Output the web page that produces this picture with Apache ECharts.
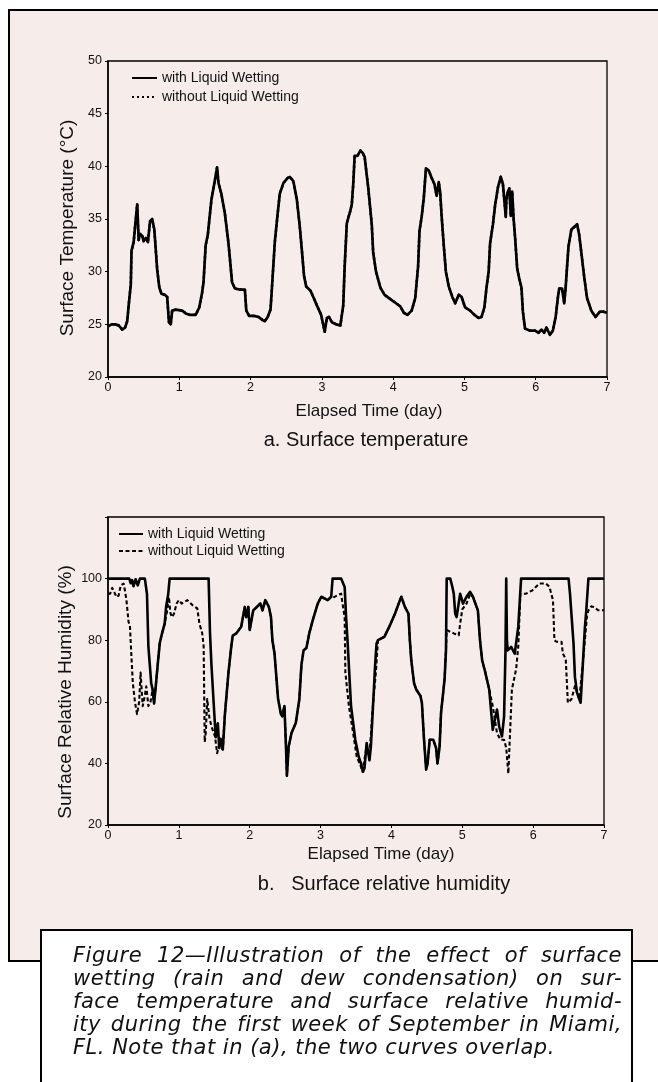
<!DOCTYPE html>
<html>
<head>
<meta charset="utf-8">
<script src="https://cdn.jsdelivr.net/npm/echarts@6/dist/echarts.min.js"></script>
<style>
  html, body { margin: 0; padding: 0; background: #fff; }
  #frame { position: absolute; left: 8px; top: 9px; width: 700px; height: 953px; box-sizing: border-box;
           background: #f6edeb; border: 2.5px solid #000; }
  #capbox { position: absolute; left: 40px; top: 929px; width: 593px; height: 200px; box-sizing: border-box;
            background: #fff; border: 2.5px solid #000; }
  #chart { position: absolute; left: 0; top: 0; width: 658px; height: 1082px; }
  #caption { position: absolute; left: 73px; top: 944px; width: 549px;
             font-family: "DejaVu Sans", sans-serif; font-style: italic; font-size: 21px;
             letter-spacing: 0.5px; line-height: 23px; color: #111; }
  #caption div { white-space: nowrap; }
  #caption .j { text-align: justify; text-align-last: justify; white-space: normal; }
</style>
</head>
<body>
<div id="frame"></div>
<div id="capbox"></div>
<div id="chart"></div>
<div id="caption"></div>
<script>
// ---------------- data ----------------
// (a) surface temperature, degC, vs elapsed time (day)
const tempDays = [
  0, 0.05, 0.10, 0.15, 0.20, 0.24, 0.27, 0.29, 0.32, 0.33,
  0.36, 0.38, 0.41, 0.43, 0.45, 0.48, 0.50, 0.53, 0.56, 0.59,
  0.62, 0.65, 0.69, 0.72, 0.75, 0.80, 0.83, 0.855, 0.88, 0.90,
  0.95, 1.04, 1.10, 1.15, 1.23, 1.28, 1.32, 1.34, 1.37, 1.40,
  1.45, 1.50, 1.53, 1.55, 1.59, 1.64, 1.69, 1.72, 1.74, 1.78,
  1.85, 1.92, 1.94, 1.98, 2.05, 2.11, 2.17, 2.20, 2.24, 2.28,
  2.30, 2.34, 2.38, 2.41, 2.46, 2.52, 2.55, 2.60, 2.65, 2.69,
  2.72, 2.75, 2.78, 2.84, 2.88, 2.93, 2.99, 3.04, 3.07, 3.10,
  3.14, 3.20, 3.26, 3.30, 3.32, 3.35, 3.40, 3.42, 3.44, 3.46,
  3.50, 3.54, 3.57, 3.60, 3.65, 3.70, 3.72, 3.76, 3.82, 3.88,
  3.96, 4.04, 4.10, 4.15, 4.20, 4.26, 4.31, 4.35, 4.37, 4.40,
  4.43, 4.46, 4.50, 4.54, 4.58, 4.61, 4.64, 4.66, 4.68, 4.71,
  4.74, 4.78, 4.83, 4.87, 4.92, 4.96, 5.01, 5.08, 5.14, 5.20,
  5.24, 5.28, 5.31, 5.34, 5.36, 5.40, 5.43, 5.47, 5.51, 5.54,
  5.58, 5.59, 5.61, 5.63, 5.65, 5.67, 5.69, 5.71, 5.74, 5.77,
  5.80, 5.82, 5.85, 5.92, 5.99, 6.04, 6.08, 6.12, 6.15, 6.20,
  6.24, 6.28, 6.31, 6.33, 6.37, 6.40, 6.42, 6.44, 6.46, 6.50,
  6.55, 6.58, 6.61, 6.64, 6.68, 6.72, 6.78, 6.84, 6.90, 6.95, 7.00
];
const tempWith = [
  24.8, 25.0, 25.0, 24.9, 24.5, 24.7, 25.3, 26.8, 28.8, 32.0,
  32.8, 34.3, 36.4, 33.0, 33.6, 33.4, 32.9, 33.2, 32.8, 34.8,
  35.0, 34.0, 30.2, 28.5, 27.9, 27.8, 27.6, 25.2, 25.0, 26.3,
  26.4, 26.3, 26.0, 25.9, 25.9, 26.6, 28.0, 29.0, 32.5, 33.5,
  36.8, 38.7, 39.9, 38.4, 37.4, 35.5, 32.7, 30.5, 29.0, 28.4,
  28.3, 28.3, 26.3, 25.8, 25.8, 25.7, 25.4, 25.3, 25.7, 26.4,
  28.5, 32.8, 35.5, 37.4, 38.4, 38.9, 39.0, 38.6, 36.8, 34.3,
  32.0, 29.6, 28.6, 28.2, 27.6, 26.8, 25.9, 24.3, 25.6, 25.7,
  25.2, 25.0, 24.9, 26.8, 30.5, 34.6, 35.8, 36.4, 38.3, 41.0,
  41.0, 41.5, 41.3, 40.9, 38.0, 34.5, 31.8, 30.0, 28.5, 27.8,
  27.4, 27.0, 26.7, 26.1, 25.9, 26.3, 27.5, 30.5, 33.9, 35.2,
  37.0, 39.8, 39.6, 38.9, 38.3, 37.2, 38.5, 37.5, 35.3, 32.5,
  30.0, 28.6, 27.6, 27.0, 27.8, 27.6, 26.6, 26.3, 25.9, 25.6,
  25.7, 26.6, 28.5, 30.0, 32.7, 34.5, 36.3, 38.0, 39.0, 38.3,
  35.2, 37.0, 37.6, 37.9, 35.3, 37.6, 35.0, 33.3, 30.3, 29.3,
  28.5, 26.2, 24.6, 24.4, 24.4, 24.2, 24.5, 24.2, 24.7, 24.0,
  24.4, 25.7, 27.5, 28.4, 28.4, 27.0, 28.5, 30.5, 32.4, 34.0,
  34.3, 34.5, 33.5, 31.8, 29.5, 27.5, 26.3, 25.7, 26.2, 26.2, 26.1
];
// in (a) the two curves overlap: the "without" readings are the same
const tempWithout = tempWith;

// (b) surface relative humidity, %, with liquid wetting
const humDaysWith = [
  0, 0.30, 0.32, 0.34, 0.36, 0.39, 0.42, 0.45, 0.52, 0.55,
  0.57, 0.59, 0.61, 0.63, 0.65, 0.67, 0.70, 0.73, 0.76, 0.80,
  0.82, 0.85, 0.87, 1.42, 1.44, 1.46, 1.49, 1.52, 1.55, 1.57,
  1.59, 1.62, 1.65, 1.70, 1.74, 1.76, 1.81, 1.88, 1.93, 1.95,
  1.98, 2.00, 2.05, 2.10, 2.15, 2.18, 2.22, 2.27, 2.30, 2.32,
  2.35, 2.40, 2.44, 2.46, 2.49, 2.51, 2.525, 2.55, 2.59, 2.65,
  2.70, 2.73, 2.76, 2.80, 2.84, 2.89, 2.96, 3.01, 3.10, 3.15,
  3.17, 3.29, 3.34, 3.36, 3.38, 3.43, 3.49, 3.54, 3.57, 3.60,
  3.62, 3.65, 3.69, 3.71, 3.74, 3.77, 3.79, 3.81, 3.90, 3.97,
  4.05, 4.12, 4.14, 4.19, 4.24, 4.26, 4.28, 4.32, 4.35, 4.41,
  4.43, 4.46, 4.49, 4.51, 4.54, 4.59, 4.63, 4.65, 4.68, 4.70,
  4.75, 4.77, 4.78, 4.83, 4.86, 4.88, 4.90, 4.92, 4.97, 5.01,
  5.06, 5.11, 5.15, 5.22, 5.25, 5.28, 5.32, 5.38, 5.43, 5.49,
  5.52, 5.56, 5.59, 5.61, 5.62, 5.63, 5.64, 5.69, 5.74, 5.79,
  5.83, 6.50, 6.52, 6.57, 6.59, 6.62, 6.67, 6.70, 6.73, 6.75,
  6.78, 7.00
];
const humWith = [
  100, 100, 98.5, 99.5, 97.5, 99.8, 97.8, 100, 100, 95,
  78, 72, 66, 64, 59.5, 64, 71.7, 79, 82, 85.4,
  90.8, 95, 100, 100, 82, 72, 60, 48.5, 53, 45,
  48, 44.5, 56, 69.5, 78, 81.5, 82.2, 84.4, 90.8, 87.5,
  90.8, 83.3, 89.7, 90.8, 91.9, 89.7, 93, 90.8, 87.5, 80,
  75.7, 61, 56, 55.3, 58.6, 46.6, 36, 45.5, 49.9, 53.1,
  60.8, 72, 76.7, 77.5, 82.2, 86.5, 91.9, 94.1, 93, 94.1,
  100, 100, 97.3, 87.5, 80, 58.6, 47.7, 42, 40, 37.3,
  38.5, 46.6, 41, 45.5, 58.6, 72, 78.9, 80, 81.1, 84.4,
  88.6, 93, 94.1, 90.8, 88.6, 80, 73.5, 66, 64, 61.9,
  59.7, 47.7, 38, 40, 47.7, 47.7, 45, 40, 45.5, 56.4,
  67.3, 76.7, 100, 100, 97.3, 95.1, 88.6, 87.5, 95.1, 91.9,
  94.1, 95.7, 94.1, 89.7, 80, 73.5, 70, 64, 50.9, 57.5,
  52, 48.8, 55.3, 77, 100, 80, 76.7, 77.8, 75.6, 84.4,
  100, 100, 95.1, 78.9, 68, 62.9, 59.7, 71.7, 84, 89.7,
  100, 100
];

// (b) surface relative humidity, %, without liquid wetting
const humDaysWithout = [
  0, 0.03, 0.06, 0.08, 0.12, 0.15, 0.18, 0.22, 0.24, 0.26,
  0.29, 0.31, 0.33, 0.35, 0.38, 0.41, 0.44, 0.46, 0.48, 0.49,
  0.52, 0.54, 0.57, 0.60, 0.63, 0.65, 0.67, 0.70, 0.73, 0.76,
  0.80, 0.83, 0.86, 0.88, 0.90, 0.93, 0.97, 1.00, 1.04, 1.08,
  1.12, 1.19, 1.26, 1.29, 1.33, 1.35, 1.365, 1.38, 1.40, 1.43,
  1.46, 1.51, 1.54, 1.57, 1.59, 1.62, 1.65, 1.70, 1.74, 1.76,
  1.81, 1.88, 1.93, 1.95, 1.98, 2.00, 2.05, 2.10, 2.15, 2.18,
  2.22, 2.27, 2.30, 2.32, 2.35, 2.40, 2.44, 2.46, 2.49, 2.51,
  2.525, 2.55, 2.59, 2.65, 2.70, 2.73, 2.76, 2.80, 2.84, 2.89,
  2.96, 3.01, 3.10, 3.15, 3.19, 3.24, 3.29, 3.31, 3.34, 3.35,
  3.40, 3.46, 3.51, 3.57, 3.59, 3.65, 3.69, 3.73, 3.78, 3.81,
  3.90, 3.97, 4.05, 4.12, 4.14, 4.19, 4.24, 4.26, 4.28, 4.32,
  4.35, 4.41, 4.43, 4.46, 4.49, 4.51, 4.54, 4.59, 4.63, 4.65,
  4.68, 4.70, 4.75, 4.77, 4.78, 4.88, 4.95, 4.97, 5.00, 5.06,
  5.11, 5.15, 5.22, 5.25, 5.28, 5.32, 5.38, 5.43, 5.49, 5.54,
  5.59, 5.62, 5.65, 5.68, 5.70, 5.76, 5.79, 5.82, 5.90, 5.99,
  6.09, 6.18, 6.23, 6.28, 6.30, 6.33, 6.40, 6.42, 6.46, 6.49,
  6.54, 6.59, 6.65, 6.70, 6.73, 6.76, 6.78, 6.82, 6.85, 6.92, 7.00
];
const humWithout = [
  95, 95.1, 97, 97.2, 94, 94.5, 97.8, 98.4, 96, 93,
  86, 84.4, 75, 66.2, 60, 56, 60, 69.5, 62, 58.6,
  62, 65, 58.6, 60, 64, 59.5, 64, 71.7, 79, 82,
  85.4, 89, 94, 89, 87.5, 88.5, 92, 93, 91.9, 92.5,
  93, 91.4, 90.3, 85.4, 82.2, 78, 47, 50, 60.9, 55,
  52, 48.8, 43.3, 46, 45.7, 44.5, 56, 69.5, 78, 81.5,
  82.2, 84.4, 90.8, 87.5, 90.8, 83.3, 89.7, 90.8, 91.9, 89.7,
  93, 90.8, 87.5, 80, 75.7, 61, 56, 55.3, 58.6, 46.6,
  36, 45.5, 49.9, 53.1, 60.8, 72, 76.7, 77.5, 82.2, 86.5,
  91.9, 94.1, 93, 94.1, 94, 94.6, 95.1, 91.9, 87.5, 69.5,
  58.6, 49.8, 42.2, 38.9, 37.3, 45.5, 42.2, 56.4, 69.5, 80,
  81.1, 84.4, 88.6, 93, 94.1, 90.8, 88.6, 80, 73.5, 66,
  64, 61.9, 59.7, 47.7, 38, 40, 47.7, 47.7, 45, 40,
  45.5, 56.4, 67.3, 76.7, 83.3, 82.2, 81.6, 85.4, 90, 91.9,
  95, 94.1, 89.7, 80, 73.5, 70, 64, 58.6, 49.8, 47.7,
  47.7, 45, 36.7, 53.1, 64, 70.6, 78, 95.1, 95.1, 96.2,
  98.4, 98.4, 97.3, 93, 80, 79.5, 79.5, 75.6, 73.9, 59.7,
  60.8, 65.1, 60.8, 72, 80, 88, 89.7, 91, 90.8, 89.7, 89.7
];

// axis ticks
const dayTicks = [0, 1, 2, 3, 4, 5, 6, 7];
const tempTicks = [20, 25, 30, 35, 40, 45, 50];
const humTicks = [20, 40, 60, 80, 100, 120];   // 120 has a tick but no label

// texts
const legendNames = { aWith: 'with Liquid Wetting', aWithout: 'without Liquid Wetting',
                      bWith: 'with Liquid Wetting', bWithout: 'without Liquid Wetting' };
const xTitle = 'Elapsed Time (day)';
const yTitleA = 'Surface Temperature (°C)';
const yTitleB = 'Surface Relative Humidity (%)';
const subTitleA = 'a. Surface temperature';
const subTitleB = 'b.   Surface relative humidity';
const captionLines = [
  'Figure 12—Illustration of the effect of surface',
  'wetting (rain and dew condensation) on sur-',
  'face temperature and surface relative humid-',
  'ity during the first week of September in Miami,',
  'FL. Note that in (a), the two curves overlap.'
];

// ---------------- caption ----------------
const cap = document.getElementById('caption');
captionLines.forEach((t, i) => {
  const d = document.createElement('div');
  if (i < captionLines.length - 1) d.className = 'j';
  d.textContent = t;
  cap.appendChild(d);
});

// ---------------- chart ----------------
const FONT = 'Liberation Sans, Arial, sans-serif';
const INK = '#111';
const zip = (xs, ys) => xs.map((x, i) => [x, ys[i]]);

function xAxisCfg(gi) {
  return {
    gridIndex: gi, type: 'value',
    min: dayTicks[0], max: dayTicks[dayTicks.length - 1], interval: 1,
    axisLine: { show: true, lineStyle: { color: '#000', width: 1.5 } },
    axisTick: { show: true, length: 3, lineStyle: { color: '#000', width: 1 } },
    axisLabel: { fontSize: 12.5, fontFamily: FONT, color: INK, margin: 4 },
    splitLine: { show: false }
  };
}
function yAxisCfg(gi, ticks, fmt) {
  return {
    gridIndex: gi, type: 'value',
    min: ticks[0], max: ticks[ticks.length - 1], interval: ticks[1] - ticks[0],
    axisLine: { show: true, lineStyle: { color: '#000', width: 1.5 } },
    axisTick: { show: true, length: 3, lineStyle: { color: '#000', width: 1 } },
    axisLabel: { fontSize: 12.5, fontFamily: FONT, color: INK, margin: 6, formatter: fmt },
    splitLine: { show: false }
  };
}
function legendCfg(left, top, w, gap, names) {
  return {
    orient: 'vertical', left: left, top: top, padding: 0,
    itemWidth: w, itemHeight: 14, itemGap: gap, selectedMode: false,
    itemStyle: { color: 'rgba(0,0,0,0)', borderColor: 'rgba(0,0,0,0)', borderWidth: 0, opacity: 0 },
    textStyle: { fontSize: 14, fontFamily: FONT, color: INK, lineHeight: 14 },
    formatter: n => legendNames[n],
    data: names
  };
}
function txt(x, y, text, size, rot) {
  return {
    type: 'text', x: x, y: y, rotation: rot || 0, silent: true,
    style: { text: text, fontSize: size, fontFamily: FONT, fill: INK,
             textAlign: 'center', textVerticalAlign: 'middle' }
  };
}

const chart = echarts.init(document.getElementById('chart'), null, { renderer: 'canvas', width: 658, height: 1082 });
chart.setOption({
  animation: false,
  backgroundColor: 'transparent',
  grid: [
    { left: 108, top: 61, width: 499, height: 316, show: true, borderColor: '#000', borderWidth: 1.3, backgroundColor: 'transparent' },
    { left: 108, top: 517, width: 496, height: 308, show: true, borderColor: '#000', borderWidth: 1.3, backgroundColor: 'transparent' }
  ],
  xAxis: [xAxisCfg(0), xAxisCfg(1)],
  yAxis: [
    yAxisCfg(0, tempTicks, v => String(v)),
    yAxisCfg(1, humTicks, v => (v > 100 ? '' : String(v)))
  ],
  legend: [
    legendCfg(131, 71, 25, 5, ['aWith', 'aWithout']),
    legendCfg(118, 527, 24, 3, ['bWith', 'bWithout'])
  ],
  series: [
    { name: 'aWithout', type: 'line', xAxisIndex: 0, yAxisIndex: 0, data: zip(tempDays, tempWithout),
      symbol: 'none', showSymbol: false, silent: true, z: 2, itemStyle: { color: '#000' },
      lineStyle: { color: '#000', width: 2.5, type: [2, 3], join: 'round' } },
    { name: 'aWith', type: 'line', xAxisIndex: 0, yAxisIndex: 0, data: zip(tempDays, tempWith),
      symbol: 'none', showSymbol: false, silent: true, z: 3, itemStyle: { color: '#000' },
      lineStyle: { color: '#000', width: 2.7, type: 'solid', join: 'round' } },
    { name: 'bWith', type: 'line', xAxisIndex: 1, yAxisIndex: 1, data: zip(humDaysWith, humWith),
      symbol: 'none', showSymbol: false, silent: true, z: 3, itemStyle: { color: '#000' },
      lineStyle: { color: '#000', width: 2.6, type: 'solid', join: 'round' } },
    { name: 'bWithout', type: 'line', xAxisIndex: 1, yAxisIndex: 1, data: zip(humDaysWithout, humWithout),
      symbol: 'none', showSymbol: false, silent: true, z: 2, itemStyle: { color: '#000' },
      lineStyle: { color: '#000', width: 2.1, type: [4, 2.5], join: 'round' } }
  ],
  graphic: [
    txt(68, 228, yTitleA, 19, Math.PI / 2),
    txt(369, 411, xTitle, 17),
    txt(366, 440, subTitleA, 20),
    txt(66, 692, yTitleB, 19, Math.PI / 2),
    txt(381, 854, xTitle, 17),
    txt(384, 884, subTitleB, 20)
  ]
});
</script>
</body>
</html>
